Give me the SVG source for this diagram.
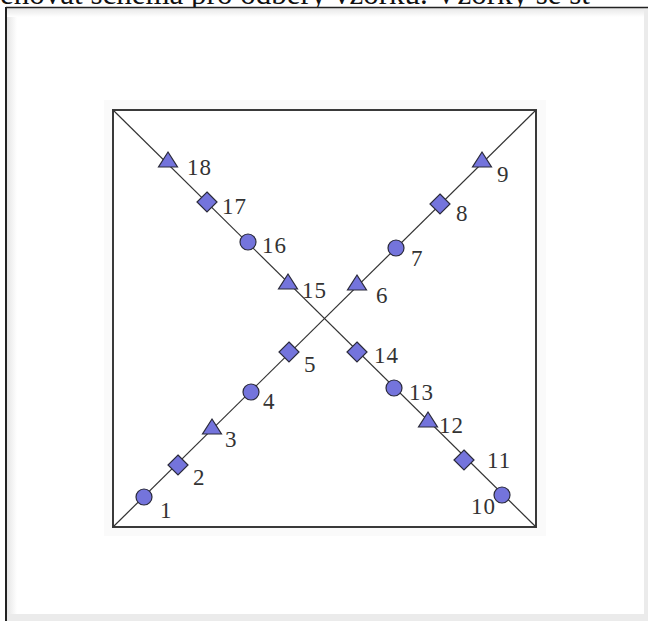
<svg xmlns="http://www.w3.org/2000/svg" width="648" height="621" viewBox="0 0 648 621">
<style>
.lbl{font-family:"Liberation Serif","Times New Roman",serif;font-size:23px;fill:#333;letter-spacing:1px}
.mk{fill:#7474dc;stroke:#2a2a3a;stroke-width:1.2}
.ln{stroke:#333;stroke-width:1.2;fill:none}
</style>
<defs>
<linearGradient id="gl" x1="0" y1="0" x2="1" y2="0"><stop offset="0" stop-color="#e6e6e6"/><stop offset="1" stop-color="#ffffff"/></linearGradient>
<linearGradient id="gt" x1="0" y1="0" x2="0" y2="1"><stop offset="0" stop-color="#e6e6e6"/><stop offset="1" stop-color="#ffffff"/></linearGradient>
<circle id="c" r="8" class="mk"/>
<polygon id="d" points="0,-10 10,0 0,10 -10,0" class="mk"/>
<polygon id="t" points="0,-15 9.5,0 -9.5,0" class="mk"/>
</defs>
<rect width="648" height="621" fill="#fff"/>
<text x="0" y="4" font-family="Liberation Serif,serif" font-size="31" fill="#111">ěnovat schéma pro odběry vzorku. Vzorky se st</text>
<g id="frame">
<rect x="7" y="8" width="10" height="607" fill="url(#gl)"/>
<rect x="7" y="8" width="639" height="9" fill="url(#gt)"/>
<rect x="6" y="614" width="642" height="7" fill="#ebebeb"/>
<rect x="644" y="8" width="4" height="613" fill="#ebebeb"/>
<line x1="6" y1="7.5" x2="648" y2="7.5" stroke="#222" stroke-width="1.5"/>
<line x1="6" y1="7" x2="6" y2="621" stroke="#222" stroke-width="2"/>
</g>
<rect x="104" y="100" width="442" height="436" fill="#fafafa"/>
<rect x="113" y="110" width="423" height="417" fill="#fff" stroke="#3a3a3a" stroke-width="2"/>
<g id="connectors">
<line class="ln" x1="113" y1="110" x2="536" y2="527"/>
<line class="ln" x1="113" y1="527" x2="536" y2="110"/>
</g>
<g id="n1"><use href="#c" x="144" y="497"/><text class="lbl" x="160" y="518">1</text></g>
<g id="n2"><use href="#d" x="178" y="465"/><text class="lbl" x="193" y="485">2</text></g>
<g id="n3"><use href="#t" x="212" y="434"/><text class="lbl" x="225" y="447">3</text></g>
<g id="n4"><use href="#c" x="251" y="392"/><text class="lbl" x="263" y="409">4</text></g>
<g id="n5"><use href="#d" x="289" y="352"/><text class="lbl" x="304" y="372">5</text></g>
<g id="n6"><use href="#t" x="357" y="290"/><text class="lbl" x="376" y="303">6</text></g>
<g id="n7"><use href="#c" x="396" y="248"/><text class="lbl" x="411" y="266">7</text></g>
<g id="n8"><use href="#d" x="440" y="204"/><text class="lbl" x="456" y="221">8</text></g>
<g id="n9"><use href="#t" x="482" y="167"/><text class="lbl" x="497" y="182">9</text></g>
<g id="n10"><use href="#c" x="502" y="495"/><text class="lbl" x="471" y="514">10</text></g>
<g id="n11"><use href="#d" x="464" y="460"/><text class="lbl" x="487" y="468">11</text></g>
<g id="n12"><use href="#t" x="428" y="427"/><text class="lbl" x="439" y="433">12</text></g>
<g id="n13"><use href="#c" x="394" y="388"/><text class="lbl" x="409" y="400">13</text></g>
<g id="n14"><use href="#d" x="357" y="352"/><text class="lbl" x="374" y="363">14</text></g>
<g id="n15"><use href="#t" x="288" y="289"/><text class="lbl" x="302" y="298">15</text></g>
<g id="n16"><use href="#c" x="248" y="242"/><text class="lbl" x="262" y="253">16</text></g>
<g id="n17"><use href="#d" x="207" y="202"/><text class="lbl" x="222" y="214">17</text></g>
<g id="n18"><use href="#t" x="168" y="167"/><text class="lbl" x="187" y="175">18</text></g>
</svg>
